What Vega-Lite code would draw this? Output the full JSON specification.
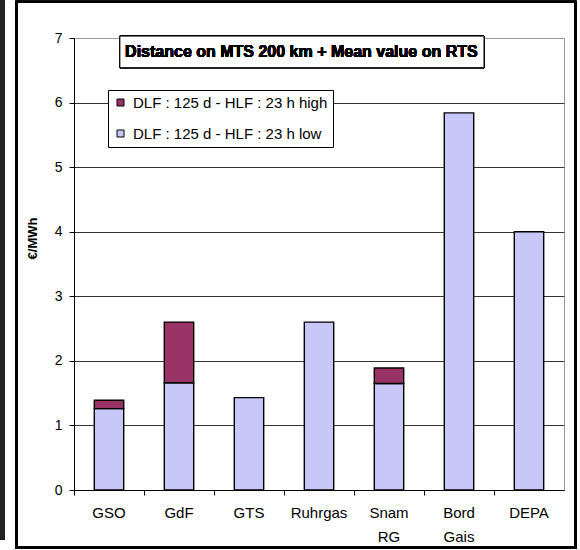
{
  "$schema": "https://vega.github.io/schema/vega-lite/v6.json",
  "width": 490,
  "height": 452,
  "autosize": "none",
  "padding": {"left": 74, "top": 38, "right": 16, "bottom": 60},
  "background": "white",
  "config": {
    "font": "Liberation Sans",
    "view": {"stroke": "#999999", "strokeWidth": 1}
  },
  "data": {
    "values": [
      {"op": "GSO", "series": "DLF : 125 d - HLF : 23 h low", "v": 1.26, "ord": 1},
      {"op": "GSO", "series": "DLF : 125 d - HLF : 23 h high", "v": 0.13, "ord": 2},
      {"op": "GdF", "series": "DLF : 125 d - HLF : 23 h low", "v": 1.66, "ord": 1},
      {"op": "GdF", "series": "DLF : 125 d - HLF : 23 h high", "v": 0.94, "ord": 2},
      {"op": "GTS", "series": "DLF : 125 d - HLF : 23 h low", "v": 1.43, "ord": 1},
      {"op": "Ruhrgas", "series": "DLF : 125 d - HLF : 23 h low", "v": 2.6, "ord": 1},
      {"op": "Snam RG", "series": "DLF : 125 d - HLF : 23 h low", "v": 1.65, "ord": 1},
      {"op": "Snam RG", "series": "DLF : 125 d - HLF : 23 h high", "v": 0.24, "ord": 2},
      {"op": "Bord Gais", "series": "DLF : 125 d - HLF : 23 h low", "v": 5.84, "ord": 1},
      {"op": "DEPA", "series": "DLF : 125 d - HLF : 23 h low", "v": 4.0, "ord": 1}
    ]
  },
  "layer": [
    {
      "mark": {"type": "bar", "stroke": "black", "strokeWidth": 1.4},
      "encoding": {
        "x": {
          "field": "op",
          "type": "nominal",
          "scale": {
            "domain": ["GSO", "GdF", "GTS", "Ruhrgas", "Snam RG", "Bord Gais", "DEPA"],
            "paddingInner": 0.58,
            "paddingOuter": 0.29
          },
          "axis": {
            "title": null,
            "labelAngle": 0,
            "labelFontSize": 15,
            "labelColor": "black",
            "labelExpr": "split(datum.value, ' ')",
            "labelLineHeight": 24,
            "labelPadding": 10,
            "labelBaseline": "top",
            "domainColor": "black",
            "tickColor": "black",
            "tickSize": 5,
            "bandPosition": -0.69
          }
        },
        "y": {
          "field": "v",
          "type": "quantitative",
          "stack": "zero",
          "scale": {"domain": [0, 7], "nice": false},
          "axis": {
            "title": "€/MWh",
            "titleFontSize": 13,
            "titleFontWeight": "bold",
            "titleColor": "black",
            "titlePadding": 15,
            "titleY": 200,
            "values": [0, 1, 2, 3, 4, 5, 6, 7],
            "labelFontSize": 14,
            "labelColor": "black",
            "labelPadding": 7,
            "domainColor": "black",
            "tickColor": "black",
            "tickSize": 5,
            "grid": true,
            "gridColor": {"condition": {"test": "datum.value == 7", "value": "#999999"}, "value": "#333333"}
          }
        },
        "order": {"field": "ord"},
        "color": {
          "field": "series",
          "type": "nominal",
          "scale": {
            "domain": ["DLF : 125 d - HLF : 23 h high", "DLF : 125 d - HLF : 23 h low"],
            "range": ["#993366", "#c8c8f8"]
          },
          "legend": {
            "title": null,
            "orient": "none",
            "legendX": 34,
            "legendY": 52,
            "symbolType": "square",
            "symbolSize": 49,
            "symbolStrokeColor": "black",
            "symbolStrokeWidth": 1,
            "labelFontSize": 15,
            "labelColor": "black",
            "labelLimit": 300,
            "labelOffset": 5,
            "rowPadding": 15,
            "padding": 5,
            "strokeColor": "black",
            "fillColor": "white"
          }
        }
      }
    },
    {
      "mark": {"type": "rect", "fill": "white", "stroke": "black", "strokeWidth": 1},
      "encoding": {
        "x": {
          "datum": "GSO", "bandPosition": 0.87,
          "axis": {
            "title": null,
            "labelAngle": 0,
            "labelFontSize": 15,
            "labelColor": "black",
            "labelExpr": "split(datum.value, ' ')",
            "labelLineHeight": 24,
            "labelPadding": 10,
            "labelBaseline": "top",
            "domainColor": "black",
            "tickColor": "black",
            "tickSize": 5,
            "bandPosition": -0.69
          }
        },
        "x2": {"datum": "DEPA", "bandPosition": -1.03},
        "y": {
          "datum": 7.03,
          "axis": {
            "title": "€/MWh",
            "titleFontSize": 13,
            "titleFontWeight": "bold",
            "titleColor": "black",
            "titlePadding": 15,
            "titleY": 200,
            "values": [0, 1, 2, 3, 4, 5, 6, 7],
            "labelFontSize": 14,
            "labelColor": "black",
            "labelPadding": 7,
            "domainColor": "black",
            "tickColor": "black",
            "tickSize": 5,
            "grid": true,
            "gridColor": {"condition": {"test": "datum.value == 7", "value": "#999999"}, "value": "#333333"}
          }
        },
        "y2": {"datum": 6.54}
      }
    },
    {
      "mark": {"type": "text", "fontSize": 16, "fontWeight": "bold", "color": "black", "align": "center", "baseline": "middle"},
      "encoding": {
        "x": {
          "datum": "Ruhrgas", "bandPosition": -0.1,
          "axis": {
            "title": null,
            "labelAngle": 0,
            "labelFontSize": 15,
            "labelColor": "black",
            "labelExpr": "split(datum.value, ' ')",
            "labelLineHeight": 24,
            "labelPadding": 10,
            "labelBaseline": "top",
            "domainColor": "black",
            "tickColor": "black",
            "tickSize": 5,
            "bandPosition": -0.69
          }
        },
        "y": {
          "datum": 6.78,
          "axis": {
            "title": "€/MWh",
            "titleFontSize": 13,
            "titleFontWeight": "bold",
            "titleColor": "black",
            "titlePadding": 15,
            "titleY": 200,
            "values": [0, 1, 2, 3, 4, 5, 6, 7],
            "labelFontSize": 14,
            "labelColor": "black",
            "labelPadding": 7,
            "domainColor": "black",
            "tickColor": "black",
            "tickSize": 5,
            "grid": true,
            "gridColor": {"condition": {"test": "datum.value == 7", "value": "#999999"}, "value": "#333333"}
          }
        },
        "text": {"value": "Distance on MTS 200 km + Mean value on RTS"}
      }
    },
    {
      "mark": {"type": "rect", "fill": null, "stroke": "black", "strokeWidth": 2},
      "encoding": {
        "x": {
          "datum": "GSO", "bandPosition": -2.65,
          "axis": {
            "title": null,
            "labelAngle": 0,
            "labelFontSize": 15,
            "labelColor": "black",
            "labelExpr": "split(datum.value, ' ')",
            "labelLineHeight": 24,
            "labelPadding": 10,
            "labelBaseline": "top",
            "domainColor": "black",
            "tickColor": "black",
            "tickSize": 5,
            "bandPosition": -0.69
          }
        },
        "x2": {"datum": "DEPA", "bandPosition": 2.08},
        "y": {
          "datum": 7.56,
          "axis": {
            "title": "€/MWh",
            "titleFontSize": 13,
            "titleFontWeight": "bold",
            "titleColor": "black",
            "titlePadding": 15,
            "titleY": 200,
            "values": [0, 1, 2, 3, 4, 5, 6, 7],
            "labelFontSize": 14,
            "labelColor": "black",
            "labelPadding": 7,
            "domainColor": "black",
            "tickColor": "black",
            "tickSize": 5,
            "grid": true,
            "gridColor": {"condition": {"test": "datum.value == 7", "value": "#999999"}, "value": "#333333"}
          }
        },
        "y2": {"datum": -0.89}
      }
    },
    {
      "mark": {"type": "rect", "fill": "#222222"},
      "encoding": {
        "x": {
          "datum": "GSO", "bandPosition": -3.21,
          "axis": {
            "title": null,
            "labelAngle": 0,
            "labelFontSize": 15,
            "labelColor": "black",
            "labelExpr": "split(datum.value, ' ')",
            "labelLineHeight": 24,
            "labelPadding": 10,
            "labelBaseline": "top",
            "domainColor": "black",
            "tickColor": "black",
            "tickSize": 5,
            "bandPosition": -0.69
          }
        },
        "x2": {"datum": "GSO", "bandPosition": -3.04},
        "y": {
          "datum": 7.6,
          "axis": {
            "title": "€/MWh",
            "titleFontSize": 13,
            "titleFontWeight": "bold",
            "titleColor": "black",
            "titlePadding": 15,
            "titleY": 200,
            "values": [0, 1, 2, 3, 4, 5, 6, 7],
            "labelFontSize": 14,
            "labelColor": "black",
            "labelPadding": 7,
            "domainColor": "black",
            "tickColor": "black",
            "tickSize": 5,
            "grid": true,
            "gridColor": {"condition": {"test": "datum.value == 7", "value": "#999999"}, "value": "#333333"}
          }
        },
        "y2": {"datum": -0.77}
      }
    }
  ]
}
